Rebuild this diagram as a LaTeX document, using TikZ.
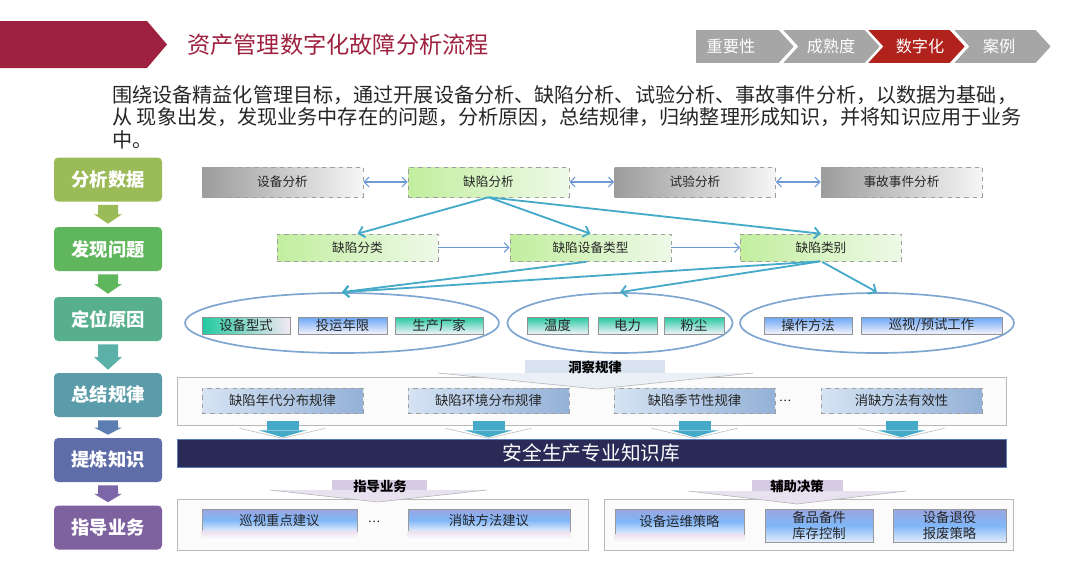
\documentclass[tikz,border=0pt]{standalone}
\usepackage{fontspec}
\setmainfont{Noto Sans CJK SC}
\usetikzlibrary{shapes.geometric,arrows.meta,calc}

\definecolor{banred}{HTML}{9E2240}
\definecolor{tabgrey}{HTML}{A6A6A6}
\definecolor{tabred}{HTML}{B0221B}
\definecolor{stepA}{HTML}{9BBB59}
\definecolor{stepB}{HTML}{5FB65C}
\definecolor{stepC}{HTML}{58AF8E}
\definecolor{stepD}{HTML}{5A9CAA}
\definecolor{stepE}{HTML}{5E6CA8}
\definecolor{stepF}{HTML}{7E62A0}
\definecolor{arrA}{HTML}{9BBB59}
\definecolor{arrB}{HTML}{5FB65C}
\definecolor{arrC}{HTML}{5BB0A8}
\definecolor{arrD}{HTML}{5B7DB0}
\definecolor{arrE}{HTML}{7D66A8}
\definecolor{boxgreyL}{HTML}{9C9C9C}
\definecolor{boxgreyR}{HTML}{F6F6F6}
\definecolor{boxgreenL}{HTML}{C2EE9E}
\definecolor{boxgreenR}{HTML}{EEF9E8}
\definecolor{causeteal}{HTML}{22C9A0}
\definecolor{causeblue}{HTML}{6AA5F6}
\definecolor{causewhite}{HTML}{F3F3FA}
\definecolor{causepink}{HTML}{F3E8F3}
\definecolor{ruleL}{HTML}{D5E3F3}
\definecolor{ruleR}{HTML}{94B1D7}
\definecolor{adviceT}{HTML}{9AA6E0}
\definecolor{adviceM}{HTML}{80B6F8}
\definecolor{adviceB}{HTML}{E2ECFB}
\definecolor{reflpink}{HTML}{EDE0F0}
\definecolor{bannerblue}{HTML}{D8E3EF}
\definecolor{bannerpurple}{HTML}{D5CBE3}
\definecolor{kbnavy}{HTML}{292A56}
\definecolor{kbedge}{HTML}{5A7DB8}
\definecolor{ringblue}{HTML}{7FA6D0}
\definecolor{linkblue}{HTML}{6E9AD3}
\definecolor{flowteal}{HTML}{45A9C8}

\tikzset{
  stepbox/.style={rounded corners=3pt, inner sep=0pt, minimum width=108*\pxu, minimum height=44*\pxu, text=white, font=\fontsize{13}{15}\selectfont\bfseries},
  databox/.style={draw=gray!75, dashed, inner sep=0pt, minimum width=161*\pxu, minimum height=30*\pxu, text=black!85, font=\fontsize{9}{11}\selectfont},
  greybox/.style={databox, left color=boxgreyL, right color=boxgreyR},
  greenbox/.style={databox, left color=boxgreenL, right color=boxgreenR},
  causebox/.style={draw=gray!85, inner sep=0pt, minimum height=17*\pxu, text=black!85, font=\fontsize{9.5}{11}\selectfont},
  tealcause/.style={causebox, top color=causeteal, bottom color=causewhite},
  bluecause/.style={causebox, top color=causeblue, bottom color=causewhite},
  ring/.style={ellipse, draw=ringblue, line width=1.2pt, inner sep=0pt, minimum height=60*\pxu},
  rulebox/.style={databox, minimum height=25*\pxu, left color=ruleL, right color=ruleR, font=\fontsize{9.5}{11}\selectfont},
  panel/.style={draw=gray!55, fill=gray!3, inner sep=0pt},
  advicebox/.style={draw=gray!80, inner sep=0pt, align=center, top color=adviceT, bottom color=adviceB, middle color=adviceM, text=black!85, font=\fontsize{9.5}{11}\selectfont},
  banner/.style={inner sep=0pt, font=\fontsize{9.5}{11}\selectfont\bfseries},
  linkarrow/.style={linkblue, line width=0.8pt, >={Straight Barb[length=3.5pt,width=7pt]}},
  flowarrow/.style={flowteal, line width=1.3pt, -{Straight Barb[length=4pt,width=8pt]}},
}

\begin{document}
\begin{tikzpicture}[x=0.025cm, y=-0.025cm]
% parameters
\def\pxu{0.025cm}
\useasboundingbox (0,0) rectangle (1080,572);
% Header banner and title
\fill[banred] (0,21) -- (147,21) -- (167,44.5) -- (147,68) -- (0,68) -- cycle;
\node[anchor=west, inner sep=0pt, text=banred, font=\fontsize{16.5}{18}\selectfont] (title) at (187,44.5) {资产管理数字化故障分析流程};
% Header tabs
\foreach \lab/\xl/\tx/\c [count=\i] in {重要性/695/731/tabgrey, 成熟度/781/831/tabgrey, 数字化/866/920/tabred, 案例/952/999/tabgrey} {
    \pgfmathsetmacro\nd{\i==1 ? 0 : 16}
    \filldraw[fill=\c, draw=white, line width=1.2pt] (\xl,29) -- (\xl+84,29) -- (\xl+100,46.5) -- (\xl+84,64) -- (\xl,64) -- (\xl+\nd,46.5) -- cycle;
    \node[text=white, font=\fontsize{11.5}{13}\selectfont] (tab\i) at (\tx,46.5) {\lab};
}
% Intro text
\node[anchor=west, inner sep=0pt, text=black!85, font=\fontsize{14.3}{16}\selectfont] (intro1) at (112,95) {围绕设备精益化管理目标，通过开展设备分析、缺陷分析、试验分析、事故事件分析，以数据为基础，};
\node[anchor=west, inner sep=0pt, text=black!85, font=\fontsize{14.3}{16}\selectfont] (intro2) at (112,117.5) {从 现象出发，发现业务中存在的问题，分析原因，总结规律，归纳整理形成知识，并将知识应用于业务};
\node[anchor=west, inner sep=0pt, text=black!85, font=\fontsize{14.3}{16}\selectfont] (intro3) at (112,140) {中。};
% Left column of steps
\foreach \n/\lab/\y/\c in {l1/分析数据/179.5/stepA, l2/发现问题/249/stepB, l3/定位原因/319/stepC, l4/总结规律/395/stepD, l5/提炼知识/460/stepE, l6/指导业务/527.5/stepF}
    \node[stepbox, fill=\c] (\n) at (108,\y) {\lab};
\foreach \a/\b/\c in {l1/l2/arrA, l2/l3/arrB, l3/l4/arrC, l4/l5/arrD, l5/l6/arrE} {
    \path (\a.south) ++(0,3) coordinate (top) (\b.north) ++(0,-3) coordinate (bot);
    \fill[\c] ($(top)+(-10,0)$) -- ($(top)+(10,0)$) -- ($(top)!0.5!(bot)+(10,0)$) -- ($(top)!0.5!(bot)+(14,0)$) -- (bot) -- ($(top)!0.5!(bot)+(-14,0)$) -- ($(top)!0.5!(bot)+(-10,0)$) -- cycle;
}
% Row 1: analysis data
\node[greybox] (sbfx) at (282.5,182) {设备分析};
\node[greenbox] (qxfx) at (488.5,182) {缺陷分析};
\node[greybox] (syfx) at (695,182) {试验分析};
\node[greybox] (sgfx) at (901.5,182) {事故事件分析};
\draw[linkarrow, <->] (sbfx) -- (qxfx);
\draw[linkarrow, <->] (qxfx) -- (syfx);
\draw[linkarrow, <->] (syfx) -- (sgfx);
% Row 2: find problems
\node[greenbox, minimum height=27*\pxu] (qxfl) at (357.5,247.5) {缺陷分类};
\node[greenbox, minimum height=27*\pxu] (qxlx) at (590.5,247.5) {缺陷设备类型};
\node[greenbox, minimum height=27*\pxu] (qxlb) at (821,247.5) {缺陷类别};
\draw[linkarrow, ->] (qxfl) -- (qxlx);
\draw[linkarrow, ->] (qxlx) -- (qxlb);
\foreach \t in {qxfl,qxlx,qxlb}
    \draw[flowarrow] (qxfx.south) -- (\t.north);
% Row 3: locate causes
\node[ring, minimum width=314*\pxu] (e1) at (342,323) {};
\node[ring, minimum width=225*\pxu] (e2) at (620,323) {};
\node[ring, minimum width=274*\pxu] (e3) at (877,323) {};
\draw[flowarrow, shorten <=3pt] (qxlx.south) -- (e1.north);
\foreach \t in {e1,e2,e3}
    \draw[flowarrow, shorten <=1pt] (qxlb.south) -- (\t.north);
\node[causebox, left color=causeteal, right color=causepink, minimum width=88*\pxu] (sbxs) at (246,325.5) {设备型式};
\node[bluecause, minimum width=89*\pxu] (tynx) at (342.5,325.5) {投运年限};
\node[tealcause, minimum width=88*\pxu] (sccj) at (439,325.5) {生产厂家};
\node[tealcause, minimum width=61*\pxu] (wd) at (557.5,325.5) {温度};
\node[tealcause, minimum width=59*\pxu] (dl) at (627.5,325.5) {电力};
\node[tealcause, minimum width=60*\pxu] (fc) at (694,325.5) {粉尘};
\node[bluecause, minimum width=88*\pxu] (czff) at (808,325.5) {操作方法};
\node[bluecause, minimum width=141*\pxu] (xsgz) at (931.5,325.5) {巡视/预试工作};
% Row 4: summarize rules
\node[panel, minimum width=829*\pxu, minimum height=48*\pxu] (p4) at (591.5,401) {};
\fill[bannerblue] (525,360) rectangle (665,373);
\fill[bannerblue!55] (438,373) -- (753,373) -- (597,389) -- cycle;
\draw[gray!60] (438,373) -- (597,389) -- (753,373);
\node[banner] (dcgl) at (595,367.5) {洞察规律};
\foreach \n/\x/\lab in {r1/282.5/缺陷年代分布规律, r2/488.5/缺陷环境分布规律, r3/694.5/缺陷季节性规律, r4/901.5/消缺方法有效性}
    \node[rulebox] (\n) at (\x,400.5) {\lab};
\node[inner sep=0pt, font=\fontsize{8}{9}\selectfont] (dots1) at (785,401) {…};
\foreach \n in {r1,r2,r3,r4} {
    \path (\n.south) coordinate (c);
    \draw[gray!55] ($(c)+(-43,15)$) -- ($(c)+(0,25)$) -- ($(c)+(43,15)$);
    \fill[flowteal] ($(c)+(-16,8)$) rectangle ($(c)+(16,17)$);
    \fill[flowteal] ($(c)+(-24,17)$) -- ($(c)+(24,17)$) -- ($(c)+(0,24)$) -- cycle;
}
% Knowledge base bar
\node[fill=kbnavy, draw=kbedge, inner sep=0pt, minimum width=829*\pxu, minimum height=28*\pxu, text=white, font=\fontsize{14}{16}\selectfont] (kb) at (591.5,453) {安全生产专业知识库};
% Bottom panels
\node[panel, minimum width=411*\pxu, minimum height=51*\pxu] (pl) at (382.5,524.5) {};
\node[panel, minimum width=409*\pxu, minimum height=51*\pxu] (pr) at (808.5,524.5) {};
\fill[bannerpurple] (332,480) rectangle (427,491);
\fill[bannerpurple!55] (270,490) -- (487,490) -- (378,502) -- cycle;
\draw[gray!60] (270,490) -- (378,502) -- (487,490);
\node[banner] (zdyw) at (380,486) {指导业务};
\fill[bannerpurple] (752,480) rectangle (843,491);
\fill[bannerpurple!55] (688,491) -- (906,491) -- (797,504) -- cycle;
\draw[gray!60] (688,491) -- (797,504) -- (906,491);
\node[banner] (fzjc) at (797,486) {辅助决策};
% Advice boxes
\node[advicebox, minimum width=155*\pxu, minimum height=22*\pxu] (xsjy) at (279.5,520) {巡视重点建议};
\node[advicebox, minimum width=162*\pxu, minimum height=22*\pxu] (xqjy) at (489,520) {消缺方法建议};
\node[inner sep=0pt, font=\fontsize{8}{9}\selectfont] (dots2) at (374,522) {…};
\node[advicebox, minimum width=129*\pxu, minimum height=25*\pxu] (ywcl) at (679.5,521.5) {\raisebox{-3pt}{设备运维策略}};
\node[advicebox, minimum width=108*\pxu, minimum height=33*\pxu] (kckz) at (819,525.5) {备品备件\\库存控制};
\node[advicebox, minimum width=113*\pxu, minimum height=33*\pxu] (bfcl) at (949.5,525.5) {设备退役\\报废策略};
\foreach \n in {xsjy,xqjy,ywcl}
    \fill[top color=reflpink, bottom color=white] (\n.south west) rectangle ($(\n.south east)+(0,9)$);
\end{tikzpicture}
\end{document}
